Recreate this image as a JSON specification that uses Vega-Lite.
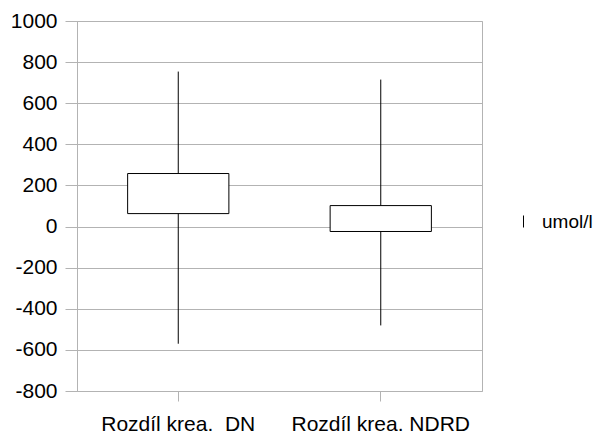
{
  "$schema": "https://vega.github.io/schema/vega-lite/v6.json",
  "autosize": {"type": "none"},
  "width": 405,
  "height": 370,
  "padding": {"left": 77, "top": 21, "right": 114, "bottom": 44},
  "background": "white",
  "config": {
    "font": "Liberation Sans",
    "view": {"stroke": "#b3b3b3", "strokeWidth": 1},
    "axis": {
      "labelFont": "Liberation Sans",
      "labelFontSize": 21,
      "labelColor": "#000000",
      "gridColor": "#b3b3b3",
      "tickColor": "#b3b3b3",
      "domainColor": "#b3b3b3",
      "title": null
    }
  },
  "data": {
    "values": [
      {"skupina": "Rozdíl krea.\u00a0 DN", "min": -570, "q1": 63, "q3": 258, "max": 754, "jednotka": "umol/l"},
      {"skupina": "Rozdíl krea. NDRD", "min": -481, "q1": -24, "q3": 102, "max": 715, "jednotka": "umol/l"}
    ]
  },
  "encoding": {
    "x": {
      "field": "skupina",
      "type": "nominal",
      "sort": null,
      "scale": {"paddingInner": 0, "paddingOuter": 0},
      "axis": {
        "labelAngle": 0,
        "tickSize": 10,
        "labelPadding": 12,
        "domain": false,
        "grid": false
      }
    }
  },
  "layer": [
    {
      "mark": {"type": "rule", "strokeWidth": 1},
      "encoding": {
        "y": {
          "field": "min",
          "type": "quantitative",
          "scale": {"domain": [-800, 1000], "nice": false, "zero": false},
          "axis": {
            "values": [-800, -600, -400, -200, 0, 200, 400, 600, 800, 1000],
            "labelExpr": "'' + datum.value",
            "tickSize": 12,
            "labelPadding": 8,
            "domain": true,
            "grid": true
          }
        },
        "y2": {"field": "max"},
        "color": {
          "field": "jednotka",
          "type": "nominal",
          "scale": {"range": ["#000000"]},
          "legend": {
            "title": null,
            "orient": "none",
            "legendX": 437,
            "legendY": 191,
            "symbolType": "M0,-1L0,1",
            "symbolSize": 144,
            "symbolStrokeWidth": 1,
            "symbolStrokeColor": "#555555",
            "labelFont": "Liberation Sans",
            "labelFontSize": 19,
            "labelColor": "#000000",
            "labelOffset": 9
          }
        }
      }
    },
    {
      "mark": {"type": "bar", "fill": "white", "stroke": "#000000", "strokeWidth": 1, "width": {"band": 0.5}},
      "encoding": {
        "y": {"field": "q1", "type": "quantitative"},
        "y2": {"field": "q3"}
      }
    }
  ]
}
